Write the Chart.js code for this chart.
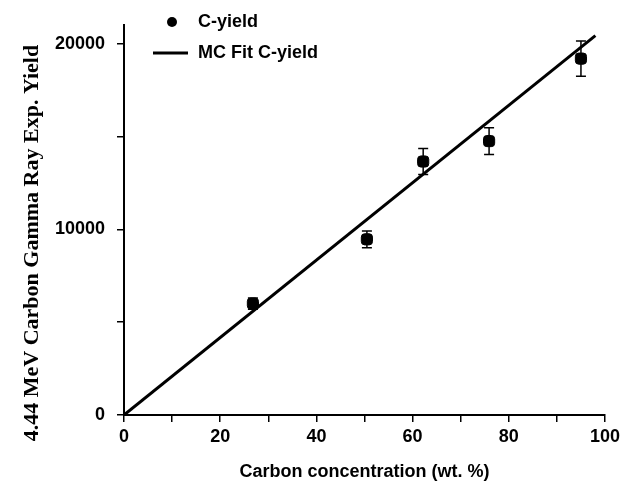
<!DOCTYPE html>
<html>
<head>
<meta charset="utf-8">
<script src="https://cdn.jsdelivr.net/npm/chart.js@4.4.1/dist/chart.umd.min.js"></script>
<style>
  html, body { margin: 0; padding: 0; background: #fff; }
  #wrap { width: 636px; height: 485px; }
</style>
</head>
<body>
<div id="wrap"><canvas id="yieldChart" width="636" height="485"></canvas></div>
<script>
// measured C-yield points (wt. % carbon vs. counts)
const carbonConc = [26.8, 50.5, 62.2, 75.9, 95.0];
const cYield = [6000, 9460, 13650, 14750, 19190];
const cYieldErr = [300, 450, 700, 720, 950];

// MC fit line end points
const fitConc = [0, 98];
const fitYield = [0, 20430];

const xTickMarks = [0, 10, 20, 30, 40, 50, 60, 70, 80, 90, 100];
const xTicks = [0, 20, 40, 60, 80, 100];
const yTickMarks = [0, 5000, 10000, 15000, 20000];
const yTicks = [0, 10000, 20000];

const xTitle = "Carbon concentration (wt. %)";
const yTitle = "4.44 MeV Carbon Gamma Ray Exp. Yield";
const legendLabels = ["C-yield", "MC Fit C-yield"];

const sansBold = "bold 18px 'Liberation Sans', Arial, sans-serif";

// error bars + axis titles + legend
const extrasPlugin = {
    id: "extras",
    afterDatasetsDraw(chart) {
        const ctx = chart.ctx;
        const xs = chart.scales.x;
        const ys = chart.scales.y;
        ctx.save();
        ctx.strokeStyle = "#000";
        ctx.lineWidth = 1.5;
        carbonConc.forEach((c, i) => {
            const px = xs.getPixelForValue(c);
            const top = ys.getPixelForValue(cYield[i] + cYieldErr[i]);
            const bot = ys.getPixelForValue(cYield[i] - cYieldErr[i]);
            ctx.beginPath();
            ctx.moveTo(px, top); ctx.lineTo(px, bot);
            ctx.moveTo(px - 5, top); ctx.lineTo(px + 5, top);
            ctx.moveTo(px - 5, bot); ctx.lineTo(px + 5, bot);
            ctx.stroke();
        });
        ctx.restore();
    },
    afterDraw(chart) {
        const ctx = chart.ctx;
        const area = chart.chartArea;
        ctx.save();
        ctx.fillStyle = "#000";

        // x title
        ctx.font = sansBold;
        ctx.textAlign = "center";
        ctx.textBaseline = "middle";
        ctx.fillText(xTitle, (area.left + area.right) / 2, 472);

        // y title (serif, rotated)
        ctx.save();
        ctx.translate(32, 243);
        ctx.rotate(-Math.PI / 2);
        ctx.font = "bold 22px 'Liberation Serif', 'Times New Roman', serif";
        ctx.fillText(yTitle, 0, 0);
        ctx.restore();

        // legend
        ctx.textAlign = "left";
        ctx.font = sansBold;
        ctx.beginPath();
        ctx.arc(172, 22, 5, 0, Math.PI * 2);
        ctx.fill();
        ctx.fillText(legendLabels[0], 198, 22);
        ctx.lineWidth = 3;
        ctx.beginPath();
        ctx.moveTo(153, 53); ctx.lineTo(188, 53);
        ctx.stroke();
        ctx.fillText(legendLabels[1], 198, 53);
        ctx.restore();
    }
};

const tickFont = { family: "'Liberation Sans', Arial, sans-serif", size: 18, weight: "bold" };

new Chart(document.getElementById("yieldChart"), {
    type: "scatter",
    data: {
        datasets: [
            {
                label: legendLabels[0],
                data: carbonConc.map((c, i) => ({ x: c, y: cYield[i] })),
                backgroundColor: "#000",
                borderColor: "#000",
                pointStyle: "rectRounded",
                pointRadius: 6.5,
                order: 1
            },
            {
                type: "line",
                label: legendLabels[1],
                data: fitConc.map((c, i) => ({ x: c, y: fitYield[i] })),
                borderColor: "#000",
                borderWidth: 3,
                pointRadius: 0,
                fill: false,
                order: 2
            }
        ]
    },
    options: {
        responsive: false,
        animation: false,
        layout: { padding: { left: 0, right: 31, top: 25, bottom: 0 } },
        plugins: {
            legend: { display: false },
            tooltip: { enabled: false }
        },
        scales: {
            x: {
                type: "linear",
                min: 0,
                max: 100,
                afterFit: s => { s.height = 70; },
                afterBuildTicks: s => { s.ticks = xTickMarks.map(v => ({ value: v })); },
                border: { display: true, color: "#000", width: 2 },
                grid: { drawOnChartArea: false, drawTicks: true, tickLength: 7, color: "#000", lineWidth: 1.5 },
                ticks: {
                    padding: 4,
                    color: "#000",
                    font: tickFont,
                    maxRotation: 0,
                    autoSkip: false,
                    callback: v => xTicks.includes(v) ? String(v) : ""
                }
            },
            y: {
                type: "linear",
                min: 0,
                max: 21000,
                afterFit: s => { s.width = 124; },
                afterBuildTicks: s => { s.ticks = yTickMarks.map(v => ({ value: v })); },
                border: { display: true, color: "#000", width: 2 },
                grid: { drawOnChartArea: false, drawTicks: true, tickLength: 7, color: "#000", lineWidth: 1.5 },
                ticks: {
                    padding: 12,
                    color: "#000",
                    font: tickFont,
                    autoSkip: false,
                    callback: v => yTicks.includes(v) ? String(v) : ""
                }
            }
        }
    },
    plugins: [extrasPlugin]
});
</script>
</body>
</html>
